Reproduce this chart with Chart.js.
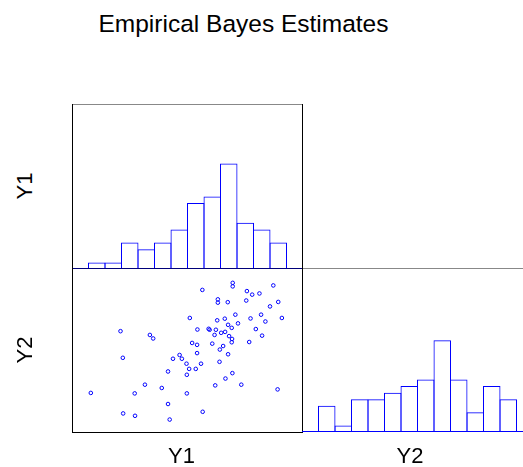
<!DOCTYPE html>
<html>
<head>
<meta charset="utf-8">
<script src="https://cdn.jsdelivr.net/npm/chart.js@4.4.0/dist/chart.umd.min.js"></script>
<style>
  html, body { margin: 0; padding: 0; background: #fff; overflow: hidden; }
  #page { position: relative; width: 523px; height: 467px; overflow: hidden; font-family: "Liberation Sans", Arial, sans-serif; color: #000; }
  #page canvas { position: absolute; }
  .lbl { position: absolute; white-space: nowrap; font-size: 22px; line-height: 22px; }
</style>
</head>
<body>
<div id="page">
  <div class="lbl" style="left:243.5px; top:12px; font-size:24.5px; line-height:24px; transform:translateX(-50%)">Empirical Bayes Estimates</div>

  <canvas id="histY1" width="231" height="165" style="left:72px; top:104px; width:231px; height:165px"></canvas>
  <canvas id="scatter" width="231" height="165" style="left:72px; top:268px; width:231px; height:165px"></canvas>
  <canvas id="histY2" width="231" height="164" style="left:302px; top:268px; width:231px; height:164px"></canvas>

  <!-- axis names -->
  <div class="lbl" style="left:25px; top:186px; transform:translate(-50%,-50%) rotate(-90deg)">Y1</div>
  <div class="lbl" style="left:25px; top:350px; transform:translate(-50%,-50%) rotate(-90deg)">Y2</div>
  <div class="lbl" style="left:181.5px; top:445px; transform:translateX(-50%)">Y1</div>
  <div class="lbl" style="left:410px; top:445px; transform:translateX(-50%)">Y2</div>
</div>

<script>
// 14 bins of width 0.5 from -3.5 to 3.5 (midpoints)
var binLabels = ["-3.25", "-2.75", "-2.25", "-1.75", "-1.25", "-0.75", "-0.25",
                 "0.25", "0.75", "1.25", "1.75", "2.25", "2.75", "3.25"];
var y1Counts = [0, 1, 1, 4, 3, 4, 6, 10, 11, 16, 7, 6, 4, 0];
var y2Counts = [0, 4, 1, 5, 5, 6, 7, 8, 14, 8, 3, 7, 5, 0];

// empirical Bayes estimates, one entry per subject
var y1Values = [1.37, 1.37, 0.45, 2.60, 1.80, 1.96, 2.18, 0.92, 0.92, 1.22,
                1.78, 2.75, 2.50, 0.07, 0.90, 1.13, 1.45, 1.91, 2.23, 2.86,
                2.36, 1.23, 1.53, 1.34, 0.30, 0.64, 0.67, 0.86, 1.02, 1.14,
                0.82, 1.26, 1.35, 1.34, 2.07, 2.26, 1.87, -2.03, -1.14, -1.04,
                0.14, 0.29, 0.75, 1.08, 0.98, 0.29, 1.23, -1.96, -0.24, -0.44,
                -0.17, -0.03, 0.41, 0.97, 0.05, 0.25, -0.59, -0.02, 1.36, 1.15,
                -1.29, -0.78, 0.84, 1.63, 2.73, -2.93, -1.60, -0.02, -0.59, 0.46,
                -1.95, -1.59, -0.54];
var y2Values = [2.87, 2.72, 2.57, 2.76, 2.52, 2.37, 2.42, 2.17, 2.03, 2.05,
                2.12, 2.06, 1.87, 1.38, 1.28, 1.35, 1.52, 1.36, 1.52, 1.38,
                1.23, 1.09, 1.15, 0.96, 0.89, 0.92, 0.88, 0.88, 0.75, 0.79,
                0.66, 0.61, 0.49, 0.35, 0.91, 0.63, 0.36, 0.82, 0.66, 0.51,
                0.32, 0.24, 0.29, 0.19, 0.04, -0.11, -0.16, -0.31, -0.19, -0.35,
                -0.35, -0.56, -0.56, -0.48, -0.78, -0.78, -0.89, -1.03, -0.96, -1.19,
                -1.45, -1.59, -1.48, -1.45, -1.65, -1.80, -1.82, -1.82, -2.27, -2.60,
                -2.67, -2.77, -2.93];

var blue = "#0000ff";

// draws panel border lines on chosen sides
function frame(sides) {
  return {
    id: "frame",
    afterDatasetsDraw: function (chart) {
      var a = chart.chartArea, ctx = chart.ctx;
      ctx.save();
      ctx.lineWidth = 1;
      sides.forEach(function (s) {
        ctx.strokeStyle = s.color;
        ctx.beginPath();
        if (s.side === "top") { ctx.moveTo(a.left, a.top + 0.5); ctx.lineTo(a.right, a.top + 0.5); }
        if (s.side === "bottom") { ctx.moveTo(a.left, a.bottom - 0.5); ctx.lineTo(a.right, a.bottom - 0.5); }
        if (s.side === "left") { ctx.moveTo(a.left + 0.5, a.top); ctx.lineTo(a.left + 0.5, a.bottom); }
        if (s.side === "right") { ctx.moveTo(a.right - 0.5, a.top); ctx.lineTo(a.right - 0.5, a.bottom); }
        ctx.stroke();
      });
      ctx.restore();
    }
  };
}

var baseOptions = {
  responsive: false,
  animation: false,
  events: [],
  layout: { padding: 0, autoPadding: false },
  plugins: { legend: { display: false }, tooltip: { enabled: false } }
};

function histogram(id, counts, sides) {
  return new Chart(document.getElementById(id), {
    type: "bar",
    data: {
      labels: binLabels,
      datasets: [{
        data: counts.map(function (c) { return c || null; }),
        borderColor: blue,
        backgroundColor: "rgba(0,0,0,0)",
        borderWidth: 1,
        barPercentage: 1 + 1 / 16.5, // neighbours share one edge line
        categoryPercentage: 1,
        inflateAmount: 0
      }]
    },
    options: Object.assign({}, baseOptions, {
      scales: {
        x: { display: false },
        y: { display: false, min: 0, max: 25 }
      }
    }),
    plugins: [frame(sides)]
  });
}

histogram("histY1", y1Counts, [
  { side: "top", color: "#888" },
  { side: "left", color: "#000" },
  { side: "right", color: "#000" },
  { side: "bottom", color: "#00007a" }
]);

histogram("histY2", y2Counts, [
  { side: "top", color: "#888" },
  { side: "left", color: "#000" },
  { side: "bottom", color: blue }
]);

new Chart(document.getElementById("scatter"), {
  type: "scatter",
  data: {
    datasets: [{
      data: y1Values.map(function (x, i) { return { x: x, y: y2Values[i] }; }),
      pointStyle: "circle",
      pointRadius: 1.8,
      borderColor: blue,
      backgroundColor: "rgba(0,0,0,0)",
      borderWidth: 1
    }]
  },
  options: Object.assign({}, baseOptions, {
    scales: {
      x: { type: "linear", display: false, min: -3.5, max: 3.5 },
      y: { type: "linear", display: false, min: -3.5, max: 3.5 }
    }
  }),
  plugins: [frame([
    { side: "left", color: "#000" },
    { side: "right", color: "#000" },
    { side: "bottom", color: "#000" }
  ])]
});
</script>
</body>
</html>
